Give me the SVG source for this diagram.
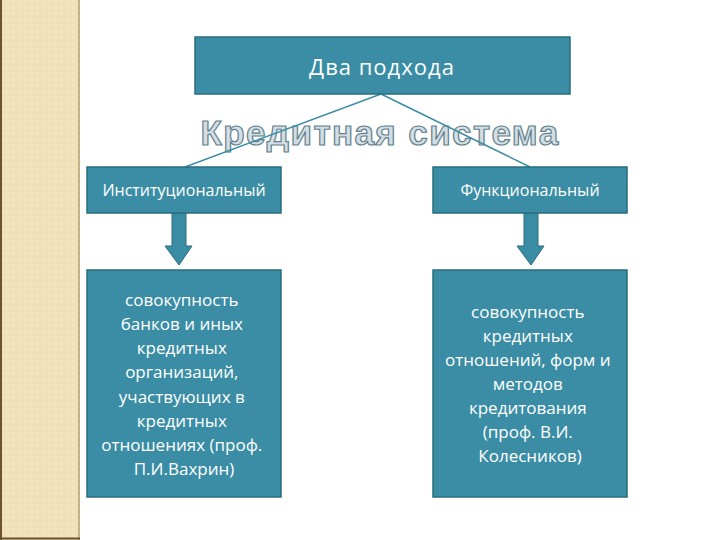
<svg xmlns="http://www.w3.org/2000/svg" width="720" height="540" viewBox="0 0 720 540">
<defs>
<style>
.box{fill:#3A8DA4;stroke:#2B6C7E;stroke-width:1.5}
.t{font-family:"Open Sans","Noto Sans",sans-serif;fill:#ffffff;text-anchor:middle}
.conn{stroke:#3A8DA4;stroke-width:1.5;fill:none}
.arr{fill:#3A8DA4;stroke:#2B6C7E;stroke-width:1}
</style>
<pattern id="pat" width="6" height="6" patternUnits="userSpaceOnUse">
<rect width="6" height="6" fill="#EFE0B8"/>
<rect width="3" height="3" fill="#F2E5C0"/>
</pattern>
</defs>
<rect width="720" height="540" fill="#ffffff"/>
<g id="sidebar">
<rect x="0" y="0" width="80" height="540" fill="url(#pat)"/>
<line x1="1" y1="0" x2="1" y2="540" stroke="#6B5330" stroke-width="2"/>
<line x1="79" y1="0" x2="79" y2="540" stroke="#C4B185" stroke-width="2"/>
<line x1="0" y1="538.5" x2="80" y2="538.5" stroke="#6B5330" stroke-width="2"/>
</g>
<g id="title">
<text x="380" y="145" font-family="Liberation Sans,Arial,sans-serif" font-weight="bold" font-size="35" fill="#D2DEE4" stroke="#62808C" stroke-width="1.2" text-anchor="middle" letter-spacing="1.4">Кредитная система</text>
</g>
<g id="connectors">
<line class="conn" x1="381" y1="94" x2="185" y2="167"/>
<line class="conn" x1="381" y1="94" x2="530" y2="167"/>
<path class="arr" d="M172 213 H186 V246 H192 L179 265 L165 246 H172 Z"/>
<path class="arr" d="M524 213 H538 V246 H544 L531 265 L517 246 H524 Z"/>
</g>
<g id="top">
<rect class="box" x="195" y="37" width="375" height="57"/>
<text class="t" x="382" y="75" font-size="22" letter-spacing="1">Два подхода</text>
</g>
<g id="inst">
<rect class="box" x="87" y="167" width="194" height="46"/>
<text class="t" x="184" y="196" font-size="16">Институциональный</text>
</g>
<g id="func">
<rect class="box" x="433" y="167" width="194" height="46"/>
<text class="t" x="530" y="196" font-size="16">Функциональный</text>
</g>
<g id="inst-desc">
<rect class="box" x="87" y="270" width="194" height="227"/>
<text class="t" font-size="17">
<tspan x="184" y="306">совокупность</tspan>
<tspan x="184" y="330">банков и иных</tspan>
<tspan x="184" y="354">кредитных</tspan>
<tspan x="184" y="378">организаций,</tspan>
<tspan x="184" y="403">участвующих в</tspan>
<tspan x="184" y="427">кредитных</tspan>
<tspan x="184" y="451">отношениях (проф.</tspan>
<tspan x="184" y="475">П.И.Вахрин)</tspan>
</text>
</g>
<g id="func-desc">
<rect class="box" x="433" y="270" width="194" height="227"/>
<text class="t" font-size="17">
<tspan x="530" y="318">совокупность</tspan>
<tspan x="530" y="342">кредитных</tspan>
<tspan x="530" y="366">отношений, форм и</tspan>
<tspan x="530" y="390">методов</tspan>
<tspan x="530" y="414">кредитования</tspan>
<tspan x="530" y="438">(проф. В.И.</tspan>
<tspan x="530" y="462">Колесников)</tspan>
</text>
</g>
</svg>
